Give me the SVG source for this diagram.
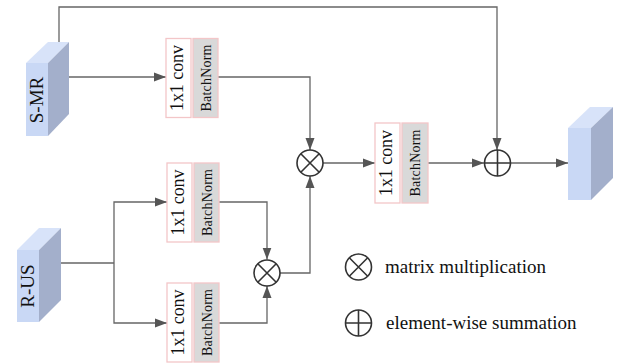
<svg xmlns="http://www.w3.org/2000/svg" width="621" height="364" viewBox="0 0 621 364">
<style>
.front{fill:#c9d8f5}
.top{fill:#d8e3f9}
.side{fill:#a3afcb}
.conv{fill:#fff;stroke:#f3c6c8;stroke-width:1.3}
.bn{fill:#d9d9d9;stroke:#f3c6c8;stroke-width:1.3}
.t{font-family:"Liberation Serif","Times New Roman",serif;fill:#111}
.op{fill:#fff;stroke:#333;stroke-width:1.6}
.ln{fill:none;stroke:#666;stroke-width:1.3}
</style>
<defs>
<marker id="ah" markerUnits="userSpaceOnUse" markerWidth="12" markerHeight="12" viewBox="0 0 12 12" refX="12" refY="6" orient="auto">
<path d="M0,1.5 L12,6 L0,10.5 Z" fill="#555"/>
</marker>
</defs>
<rect width="621" height="364" fill="#fff"/>
<g id="connectors">
<path class="ln" d="M59,42 V7 H497 V150" marker-end="url(#ah)"/>
<path class="ln" d="M69,77 H166" marker-end="url(#ah)"/>
<path class="ln" d="M218,77 H310 V150" marker-end="url(#ah)"/>
<path class="ln" d="M61,263 H114"/>
<path class="ln" d="M114,263 V202 H167" marker-end="url(#ah)"/>
<path class="ln" d="M114,263 V323 H167" marker-end="url(#ah)"/>
<path class="ln" d="M219,202 H267 V259.5" marker-end="url(#ah)"/>
<path class="ln" d="M219,323 H267 V286" marker-end="url(#ah)"/>
<path class="ln" d="M280,273 H310 V176" marker-end="url(#ah)"/>
<path class="ln" d="M323,163 H375" marker-end="url(#ah)"/>
<path class="ln" d="M428,163 H484" marker-end="url(#ah)"/>
<path class="ln" d="M511,163 H568" marker-end="url(#ah)"/>
</g>
<g id="smr">
<rect class="front" x="26" y="63" width="22" height="73"/>
<polygon class="top" points="26,63 48,42 69,42 48,63"/>
<polygon class="side" points="48,63 69,42 69,114 48,136"/>
<text class="t" font-size="19" text-anchor="middle" transform="translate(42.5,100) rotate(-90)">S-MR</text>
</g>
<g id="rus">
<rect class="front" x="17" y="250" width="22" height="72"/>
<polygon class="top" points="17,250 39,228 61,228 39,250"/>
<polygon class="side" points="39,250 61,228 61,300 39,322"/>
<text class="t" font-size="19" text-anchor="middle" transform="translate(34,286) rotate(-90)">R-US</text>
</g>
<g id="output">
<rect class="front" x="568" y="128" width="23" height="72"/>
<polygon class="top" points="568,128 590,107 613,107 591,128"/>
<polygon class="side" points="591,128 613,107 613,178 591,200"/>
</g>
<g id="convA">
<rect class="conv" x="166" y="38.5" width="25" height="79"/>
<rect class="bn" x="193" y="38.5" width="25" height="79"/>
<text class="t" font-size="18" text-anchor="middle" textLength="66" transform="translate(182.5,78) rotate(-90)">1x1 conv</text>
<text class="t" font-size="14" text-anchor="middle" textLength="67" transform="translate(210.5,78) rotate(-90)">BatchNorm</text>
</g>
<g id="convB">
<rect class="conv" x="167" y="163" width="25" height="79"/>
<rect class="bn" x="194" y="163" width="25" height="79"/>
<text class="t" font-size="18" text-anchor="middle" textLength="66" transform="translate(183.5,202.5) rotate(-90)">1x1 conv</text>
<text class="t" font-size="14" text-anchor="middle" textLength="67" transform="translate(211.5,202.5) rotate(-90)">BatchNorm</text>
</g>
<g id="convC">
<rect class="conv" x="167" y="283" width="25" height="79"/>
<rect class="bn" x="194" y="283" width="25" height="79"/>
<text class="t" font-size="18" text-anchor="middle" textLength="66" transform="translate(183.5,322.5) rotate(-90)">1x1 conv</text>
<text class="t" font-size="14" text-anchor="middle" textLength="67" transform="translate(211.5,322.5) rotate(-90)">BatchNorm</text>
</g>
<g id="convM">
<rect class="conv" x="375" y="123" width="25" height="80"/>
<rect class="bn" x="402" y="123" width="26" height="80"/>
<text class="t" font-size="18" text-anchor="middle" textLength="66" transform="translate(391.5,163) rotate(-90)">1x1 conv</text>
<text class="t" font-size="14" text-anchor="middle" textLength="67" transform="translate(420,163) rotate(-90)">BatchNorm</text>
</g>
<g id="mul1">
<circle class="op" cx="310" cy="163" r="13"/>
<path d="M300.8,153.8 L319.2,172.2 M319.2,153.8 L300.8,172.2" stroke="#333" stroke-width="1.6"/>
</g>
<g id="mul2">
<circle class="op" cx="267" cy="273" r="13"/>
<path d="M257.8,263.8 L276.2,282.2 M276.2,263.8 L257.8,282.2" stroke="#333" stroke-width="1.6"/>
</g>
<g id="sum">
<circle class="op" cx="497.5" cy="163" r="13"/>
<path d="M484.5,163 H510.5 M497.5,150 V176" stroke="#333" stroke-width="1.6"/>
</g>
<g id="legend">
<circle class="op" cx="358.5" cy="267" r="13"/>
<path d="M349.3,257.8 L367.7,276.2 M367.7,257.8 L349.3,276.2" stroke="#333" stroke-width="1.6"/>
<text class="t" font-size="19" x="385" y="273">matrix multiplication</text>
<circle class="op" cx="358.5" cy="323" r="13"/>
<path d="M345.5,323 H371.5 M358.5,310 V336" stroke="#333" stroke-width="1.6"/>
<text class="t" font-size="19" x="386" y="329">element-wise summation</text>
</g>
</svg>
